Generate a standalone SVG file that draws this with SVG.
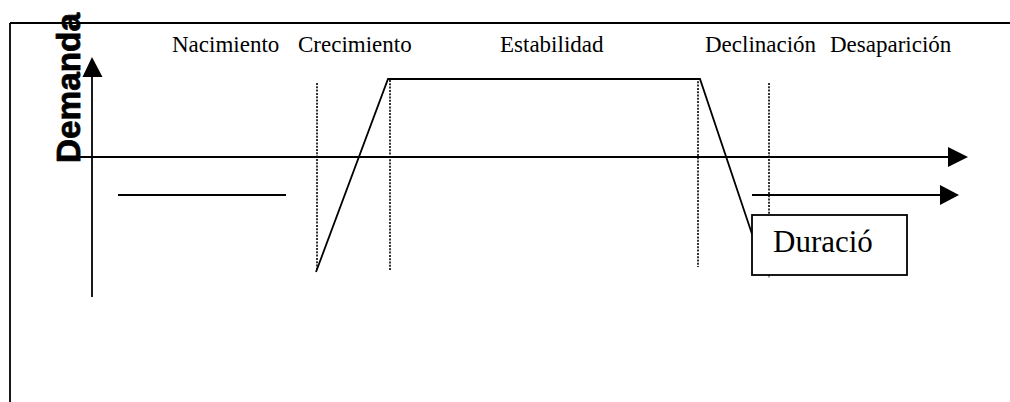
<svg xmlns="http://www.w3.org/2000/svg" width="1010" height="402" viewBox="0 0 1010 402">
<style>
.ln{stroke:#000;stroke-width:1.8;fill:none}
.dot{stroke:#000;stroke-width:1.6;stroke-dasharray:2 1.3;fill:none}
.lbl{font-family:"Liberation Serif","Times New Roman",serif;font-size:23px;fill:#000}
.hd{fill:#000}
</style>
<rect width="1010" height="402" fill="#fff"/>
<g id="frame">
<path class="ln" d="M10,23 H1010 M10,23 V402"/>
</g>
<g id="ylabel">
<text transform="translate(80,163) rotate(-90)" font-family="'Liberation Sans',Arial,sans-serif" font-weight="bold" font-size="34" textLength="150" lengthAdjust="spacingAndGlyphs" fill="#000" stroke="#000" stroke-width="0.8">Demanda</text>
</g>
<g id="phase-labels">
<text class="lbl" x="172" y="52">Nacimiento</text>
<text class="lbl" x="298" y="52">Crecimiento</text>
<text class="lbl" x="500" y="52">Estabilidad</text>
<text class="lbl" x="705" y="52">Declinación</text>
<text class="lbl" x="830" y="52">Desaparición</text>
</g>
<g id="connectors">
<path class="ln" d="M92,297 V76"/>
<polygon class="hd" points="92,57 82.5,77 102.5,77"/>
<path class="ln" d="M80,157 H949"/>
<polygon class="hd" points="968,157 948,147 948,167"/>
<path class="ln" d="M752,195 H941"/>
<polygon class="hd" points="959,195 940,185 940,205"/>
<path class="ln" d="M118,195 H286"/>
<path class="dot" d="M317,83 V270 M390,80 V270 M698,78 V267 M769,83 V278"/>
<polyline class="ln" stroke-width="2" points="316,272 388,79 700,79 752,234"/>
</g>
<g id="duracion">
<rect x="752" y="215" width="155" height="60" fill="#fff" stroke="#000" stroke-width="1.8"/>
<text x="773" y="252" font-family="'Liberation Serif','Times New Roman',serif" font-size="31" fill="#000">Duració</text>
</g>
</svg>
